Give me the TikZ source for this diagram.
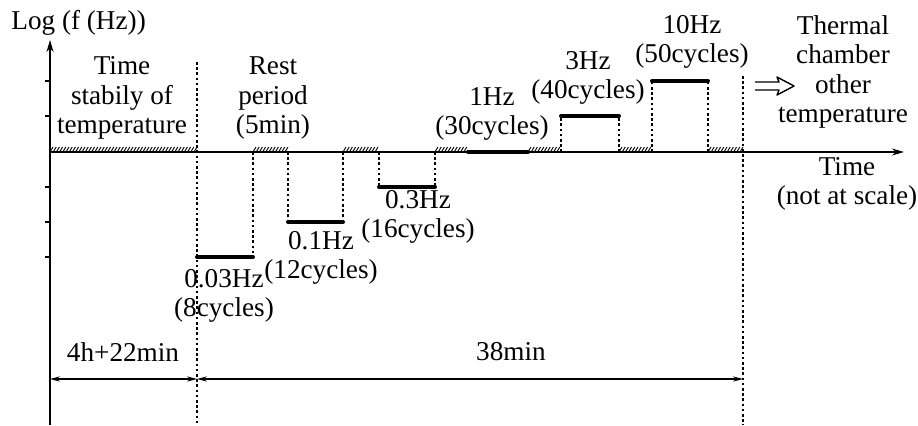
\documentclass[tikz,border=0pt]{standalone}
\usepackage{fontspec}
\setmainfont{Liberation Serif}
\usetikzlibrary{arrows.meta}
\begin{document}
\begin{tikzpicture}[
        x=0.5pt, y=-0.5pt,
        >={Stealth[length=6pt, width=3.5pt]},
        axis/.style={line width=0.7pt},
        guide/.style={line width=0.55pt, dash pattern=on 1.3pt off 1.3pt},
        level/.style={line width=2pt, line cap=round},
        hatchline/.style={line width=0.45pt},
        lbl/.style={font=\fontsize{13.6}{14.8}\selectfont, align=center, inner sep=0pt},
        dim/.style={line width=0.6pt, {Stealth[length=5pt, width=2.6pt]}-{Stealth[length=5pt, width=2.6pt]}}
    ]
        \useasboundingbox (0,0) rectangle (918,425);

        % axes
        \coordinate (ybot) at (50,425);
        \coordinate (ytop) at (50,40);
        \coordinate (o)    at (50,152);
        \coordinate (xend) at (904,152);
        \draw[axis, ->] (ybot) -- (ytop);
        \draw[axis, ->] (o) -- (xend);
        \foreach \y in {81,116,187,222,257}
            \draw[axis] (45,\y) -- (50,\y);

        % rest periods (hatched)
        \foreach \a/\b in {50/197, 253/288, 343/379, 435/468, 528/561, 619/652, 708/743} {
            \pgfmathtruncatemacro\n{(\b-\a-3)/3.2}
            \foreach \i in {0,...,\n}
                \draw[hatchline] (\a+3.2*\i,152) -- ++(3,-5);
        }

        % frequency levels
        \draw[level] (197,257) -- (253,257);
        \draw[level] (288,222) -- (343,222);
        \draw[level] (379,187) -- (435,187);
        \draw[level] (468,152) -- (528,152);
        \draw[level] (561,116) -- (619,116);
        \draw[level] (652,81)  -- (708,81);

        % guides
        \draw[guide] (197,62) -- (197,425);
        \draw[guide] (743,76) -- (743,425);
        \foreach \x/\y in {253/257, 288/222, 343/222, 379/187, 435/187, 561/116, 619/116, 652/81, 708/81}
            \draw[guide] (\x,152) -- (\x,\y);

        % labels
        \node[lbl, anchor=west] (ylbl) at (11,23) {Log (f (Hz))};
        \node[lbl] (stab)  at (122,98)  {Time\\stabily of\\temperature};
        \node[lbl] (rest)  at (273,98)  {Rest\\period\\(5min)};
        \node[lbl] (f003)  at (224,296) {0.03Hz\\(8cycles)};
        \node[lbl] (f01)   at (321,258) {0.1Hz\\(12cycles)};
        \node[lbl] (f03)   at (418,217) {0.3Hz\\(16cycles)};
        \node[lbl] (f1)    at (492,114) {1Hz\\(30cycles)};
        \node[lbl] (f3)    at (588,78)  {3Hz\\(40cycles)};
        \node[lbl] (f10)   at (692,42)  {10Hz\\(50cycles)};
        \node[lbl] (chmb)  at (843,72)  {Thermal\\chamber\\other\\temperature};
        \node[lbl] (tlbl)  at (847,184) {Time\\(not at scale)};

        % next temperature arrow
        \draw[line width=0.7pt, line join=round]
            (755,82) -- (779,82) -- (777,77) -- (794,86) -- (777,95) -- (779,90) -- (755,90);

        % durations
        \coordinate (d0) at (50,379);
        \coordinate (d1) at (197,379);
        \coordinate (d2) at (743,379);
        \draw[dim] (d0) -- (d1);
        \draw[dim] (d1) -- (d2);
        \node[lbl] (dur1) at (123,352) {4h+22min};
        \node[lbl] (dur2) at (511,352) {38min};
    \end{tikzpicture}
\end{document}
